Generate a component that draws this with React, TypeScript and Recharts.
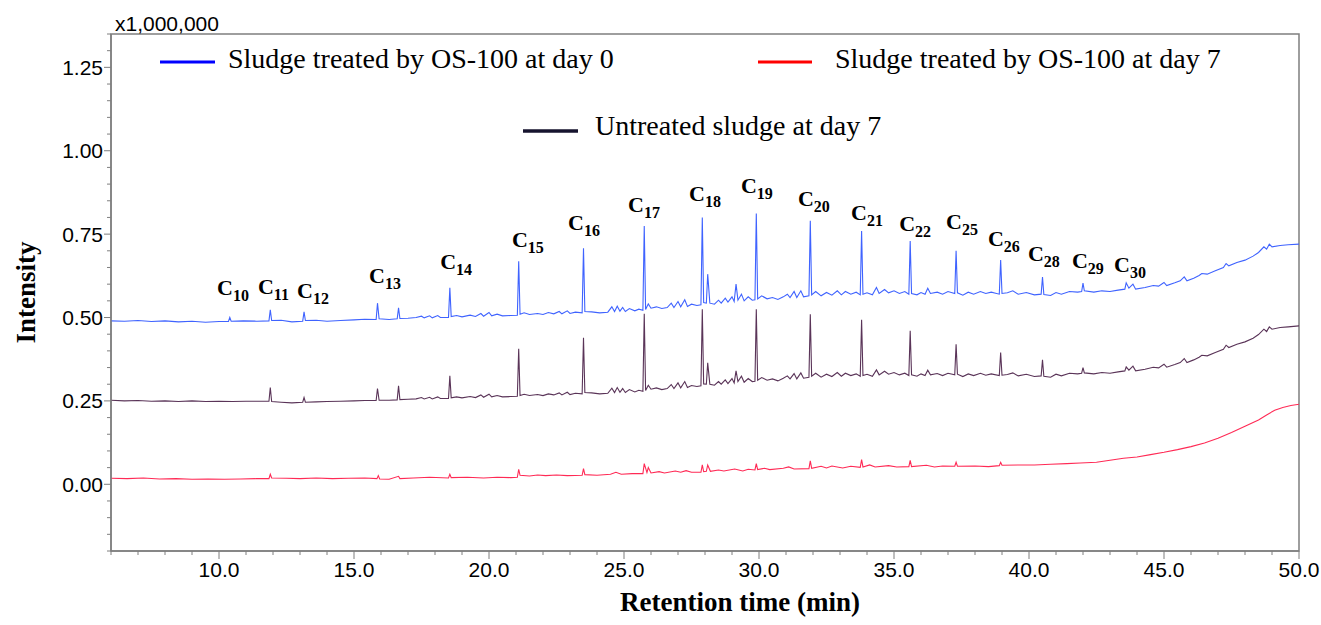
import {
  LineChart,
  Line,
  XAxis,
  YAxis,
  ReferenceArea,
  ReferenceDot,
  Legend,
} from "recharts";

// [retention time (min), intensity (x1,000,000)]
const day0Trace: [number, number][] = [
  [6.0, 0.49], [6.5, 0.489], [7.0, 0.491], [7.5, 0.488], [8.0, 0.49], [8.5, 0.487], [9.0, 0.489], [9.5, 0.486],
  [10.0, 0.488], [10.35, 0.488], [10.4, 0.5], [10.45, 0.489], [10.9, 0.49], [11.4, 0.489], [11.85, 0.49], [11.9, 0.523],
  [11.95, 0.491], [12.3, 0.492], [12.7, 0.487], [13.1, 0.489], [13.15, 0.517], [13.2, 0.491], [13.6, 0.492], [14.0, 0.489],
  [14.5, 0.491], [15.0, 0.493], [15.4, 0.495], [15.82, 0.494], [15.87, 0.543], [15.93, 0.496], [16.3, 0.494], [16.6, 0.496],
  [16.65, 0.529], [16.7, 0.497], [17.0, 0.498], [17.3, 0.5], [17.5, 0.504], [17.6, 0.499], [17.8, 0.505], [17.9, 0.499],
  [18.1, 0.506], [18.2, 0.5], [18.5, 0.5], [18.55, 0.589], [18.6, 0.503], [18.8, 0.506], [19.0, 0.502], [19.3, 0.507],
  [19.5, 0.503], [19.7, 0.512], [19.8, 0.504], [20.0, 0.515], [20.1, 0.505], [20.3, 0.51], [20.5, 0.505], [20.8, 0.506],
  [21.05, 0.507], [21.1, 0.669], [21.15, 0.51], [21.3, 0.514], [21.5, 0.509], [21.8, 0.512], [22.0, 0.509], [22.2, 0.515],
  [22.4, 0.511], [22.6, 0.518], [22.7, 0.511], [22.9, 0.52], [23.0, 0.512], [23.2, 0.516], [23.45, 0.514], [23.5, 0.708],
  [23.55, 0.518], [23.8, 0.517], [24.1, 0.514], [24.4, 0.516], [24.55, 0.532], [24.65, 0.518], [24.75, 0.534], [24.85, 0.519],
  [24.95, 0.53], [25.05, 0.518], [25.2, 0.527], [25.4, 0.52], [25.55, 0.525], [25.7, 0.522], [25.75, 0.774], [25.8, 0.524],
  [25.9, 0.541], [26.0, 0.528], [26.2, 0.532], [26.4, 0.527], [26.6, 0.53], [26.75, 0.543], [26.85, 0.53], [27.0, 0.548],
  [27.1, 0.532], [27.25, 0.553], [27.35, 0.533], [27.5, 0.54], [27.7, 0.536], [27.85, 0.538], [27.9, 0.8], [27.95, 0.545],
  [28.05, 0.543], [28.1, 0.63], [28.18, 0.543], [28.35, 0.54], [28.5, 0.552], [28.6, 0.543], [28.75, 0.558], [28.85, 0.546],
  [29.0, 0.562], [29.08, 0.548], [29.15, 0.6], [29.22, 0.552], [29.35, 0.57], [29.45, 0.55], [29.6, 0.562], [29.75, 0.552],
  [29.85, 0.553], [29.9, 0.812], [29.95, 0.556], [30.1, 0.565], [30.3, 0.556], [30.5, 0.56], [30.7, 0.554], [30.9, 0.562],
  [31.05, 0.57], [31.15, 0.56], [31.3, 0.578], [31.4, 0.56], [31.55, 0.58], [31.65, 0.562], [31.85, 0.565], [31.9, 0.79],
  [31.95, 0.568], [32.1, 0.578], [32.3, 0.565], [32.5, 0.575], [32.7, 0.567], [32.9, 0.58], [33.05, 0.568], [33.2, 0.578],
  [33.4, 0.57], [33.6, 0.576], [33.75, 0.568], [33.8, 0.759], [33.85, 0.57], [34.0, 0.574], [34.2, 0.568], [34.35, 0.59],
  [34.45, 0.572], [34.65, 0.584], [34.8, 0.574], [35.0, 0.58], [35.2, 0.572], [35.4, 0.578], [35.55, 0.57], [35.6, 0.729],
  [35.65, 0.572], [35.85, 0.568], [36.0, 0.575], [36.15, 0.57], [36.25, 0.588], [36.35, 0.572], [36.6, 0.576], [36.8, 0.57],
  [37.0, 0.578], [37.25, 0.572], [37.3, 0.7], [37.35, 0.574], [37.55, 0.567], [37.75, 0.576], [37.95, 0.57], [38.2, 0.578],
  [38.4, 0.572], [38.6, 0.576], [38.9, 0.57], [38.95, 0.672], [39.0, 0.572], [39.2, 0.574], [39.4, 0.58], [39.6, 0.57],
  [39.9, 0.575], [40.2, 0.568], [40.45, 0.57], [40.5, 0.621], [40.55, 0.569], [40.8, 0.566], [41.0, 0.575], [41.2, 0.57],
  [41.5, 0.578], [41.8, 0.576], [41.95, 0.578], [42.0, 0.603], [42.05, 0.58], [42.4, 0.576], [42.7, 0.58], [43.0, 0.578],
  [43.3, 0.582], [43.55, 0.585], [43.6, 0.604], [43.7, 0.588], [43.85, 0.6], [43.95, 0.585], [44.3, 0.59], [44.6, 0.596],
  [44.8, 0.594], [45.0, 0.605], [45.1, 0.596], [45.4, 0.604], [45.6, 0.61], [45.75, 0.622], [45.85, 0.61], [46.1, 0.618],
  [46.3, 0.626], [46.4, 0.632], [46.6, 0.63], [46.9, 0.64], [47.2, 0.65], [47.3, 0.662], [47.4, 0.655], [47.7, 0.665],
  [48.0, 0.672], [48.3, 0.684], [48.5, 0.695], [48.7, 0.712], [48.8, 0.705], [48.9, 0.72], [49.0, 0.712], [49.3, 0.716],
  [49.6, 0.718], [50.0, 0.72],
];

const day7Trace: [number, number][] = [
  [6.0, 0.018], [6.6, 0.017], [7.2, 0.019], [7.8, 0.016], [8.4, 0.017], [9.0, 0.015], [9.6, 0.016], [10.2, 0.015],
  [10.8, 0.016], [11.4, 0.017], [11.85, 0.017], [11.9, 0.03], [11.95, 0.019], [12.5, 0.018], [13.0, 0.017], [13.6, 0.019],
  [14.2, 0.017], [14.8, 0.018], [15.4, 0.019], [15.85, 0.017], [15.9, 0.026], [15.95, 0.016], [16.3, 0.015], [16.65, 0.024],
  [16.7, 0.017], [17.2, 0.019], [17.8, 0.021], [18.5, 0.019], [18.55, 0.03], [18.6, 0.02], [19.2, 0.021], [19.8, 0.019],
  [20.3, 0.021], [20.8, 0.02], [21.05, 0.021], [21.1, 0.045], [21.15, 0.027], [21.5, 0.025], [21.8, 0.028], [22.1, 0.026],
  [22.5, 0.028], [22.9, 0.026], [23.45, 0.027], [23.5, 0.047], [23.55, 0.029], [24.0, 0.027], [24.5, 0.03], [24.7, 0.036],
  [24.9, 0.03], [25.3, 0.032], [25.7, 0.032], [25.75, 0.062], [25.85, 0.035], [25.9, 0.05], [26.0, 0.034], [26.3, 0.038],
  [26.5, 0.034], [26.9, 0.04], [27.1, 0.036], [27.3, 0.041], [27.5, 0.036], [27.85, 0.036], [27.9, 0.058], [27.95, 0.038],
  [28.05, 0.039], [28.1, 0.058], [28.2, 0.039], [28.5, 0.043], [28.7, 0.04], [29.1, 0.046], [29.4, 0.04], [29.6, 0.045],
  [29.85, 0.043], [29.9, 0.062], [29.95, 0.044], [30.2, 0.048], [30.4, 0.044], [30.9, 0.048], [31.1, 0.052], [31.3, 0.046],
  [31.85, 0.047], [31.9, 0.07], [31.95, 0.048], [32.3, 0.054], [32.5, 0.049], [32.7, 0.055], [33.1, 0.049], [33.4, 0.054],
  [33.75, 0.051], [33.8, 0.074], [33.85, 0.052], [34.1, 0.058], [34.3, 0.052], [34.8, 0.056], [35.1, 0.052], [35.55, 0.053],
  [35.6, 0.072], [35.65, 0.053], [36.2, 0.057], [36.5, 0.052], [36.8, 0.055], [37.25, 0.054], [37.3, 0.066], [37.35, 0.054],
  [38.0, 0.055], [38.5, 0.053], [38.9, 0.056], [38.95, 0.066], [39.0, 0.057], [39.6, 0.058], [40.2, 0.058], [40.8, 0.06],
  [41.4, 0.062], [41.9, 0.064], [42.5, 0.066], [43.0, 0.072], [43.5, 0.078], [44.0, 0.082], [44.5, 0.089], [45.0, 0.096],
  [45.5, 0.104], [46.0, 0.113], [46.5, 0.124], [47.0, 0.138], [47.5, 0.155], [48.0, 0.174], [48.5, 0.193], [48.8, 0.208],
  [49.1, 0.222], [49.4, 0.23], [49.7, 0.236], [50.0, 0.24],
];

const untreatedTrace: [number, number][] = [
  [6.0, 0.252], [6.5, 0.25], [7.0, 0.251], [7.5, 0.249], [8.0, 0.25], [8.5, 0.248], [9.0, 0.25], [9.5, 0.248],
  [10.0, 0.249], [10.5, 0.248], [11.0, 0.249], [11.5, 0.249], [11.85, 0.249], [11.9, 0.29], [11.95, 0.248], [12.3, 0.246],
  [12.7, 0.244], [13.1, 0.246], [13.15, 0.26], [13.2, 0.246], [13.6, 0.247], [14.0, 0.248], [14.5, 0.249], [15.0, 0.25],
  [15.4, 0.251], [15.82, 0.251], [15.87, 0.287], [15.93, 0.252], [16.3, 0.252], [16.6, 0.253], [16.65, 0.295], [16.7, 0.254],
  [17.0, 0.255], [17.3, 0.256], [17.5, 0.26], [17.6, 0.256], [17.8, 0.261], [17.9, 0.256], [18.1, 0.262], [18.2, 0.257],
  [18.5, 0.257], [18.55, 0.325], [18.6, 0.259], [18.8, 0.262], [19.0, 0.259], [19.3, 0.263], [19.5, 0.26], [19.7, 0.268],
  [19.8, 0.261], [20.0, 0.27], [20.1, 0.262], [20.3, 0.266], [20.5, 0.262], [20.8, 0.263], [21.05, 0.264], [21.1, 0.406],
  [21.15, 0.266], [21.3, 0.27], [21.5, 0.266], [21.8, 0.269], [22.0, 0.266], [22.2, 0.271], [22.4, 0.268], [22.6, 0.274],
  [22.7, 0.268], [22.9, 0.276], [23.0, 0.269], [23.2, 0.273], [23.45, 0.271], [23.5, 0.439], [23.55, 0.275], [23.8, 0.274],
  [24.1, 0.271], [24.4, 0.273], [24.55, 0.288], [24.65, 0.275], [24.75, 0.29], [24.85, 0.276], [24.95, 0.287], [25.05, 0.275],
  [25.2, 0.284], [25.4, 0.277], [25.55, 0.282], [25.7, 0.279], [25.75, 0.511], [25.8, 0.281], [25.9, 0.297], [26.0, 0.285],
  [26.2, 0.289], [26.4, 0.284], [26.6, 0.287], [26.75, 0.299], [26.85, 0.287], [27.0, 0.304], [27.1, 0.289], [27.25, 0.308],
  [27.35, 0.29], [27.5, 0.296], [27.7, 0.293], [27.85, 0.295], [27.9, 0.525], [27.95, 0.301], [28.05, 0.3], [28.1, 0.364],
  [28.18, 0.3], [28.35, 0.297], [28.5, 0.308], [28.6, 0.3], [28.75, 0.313], [28.85, 0.302], [29.0, 0.317], [29.08, 0.304],
  [29.15, 0.34], [29.22, 0.308], [29.35, 0.324], [29.45, 0.306], [29.6, 0.317], [29.75, 0.308], [29.85, 0.309], [29.9, 0.525],
  [29.95, 0.312], [30.1, 0.32], [30.3, 0.312], [30.5, 0.316], [30.7, 0.31], [30.9, 0.318], [31.05, 0.325], [31.15, 0.316],
  [31.3, 0.332], [31.4, 0.316], [31.55, 0.334], [31.65, 0.318], [31.85, 0.321], [31.9, 0.51], [31.95, 0.324], [32.1, 0.333],
  [32.3, 0.321], [32.5, 0.33], [32.7, 0.323], [32.9, 0.335], [33.05, 0.324], [33.2, 0.333], [33.4, 0.326], [33.6, 0.331],
  [33.75, 0.324], [33.8, 0.493], [33.85, 0.326], [34.0, 0.33], [34.2, 0.324], [34.35, 0.343], [34.45, 0.328], [34.65, 0.339],
  [34.8, 0.33], [35.0, 0.335], [35.2, 0.328], [35.4, 0.333], [35.55, 0.326], [35.6, 0.46], [35.65, 0.328], [35.85, 0.324],
  [36.0, 0.331], [36.15, 0.326], [36.25, 0.342], [36.35, 0.328], [36.6, 0.332], [36.8, 0.326], [37.0, 0.333], [37.25, 0.328],
  [37.3, 0.42], [37.35, 0.33], [37.55, 0.323], [37.75, 0.331], [37.95, 0.326], [38.2, 0.333], [38.4, 0.327], [38.6, 0.331],
  [38.9, 0.326], [38.95, 0.395], [39.0, 0.327], [39.2, 0.329], [39.4, 0.334], [39.6, 0.325], [39.9, 0.33], [40.2, 0.323],
  [40.45, 0.325], [40.5, 0.373], [40.55, 0.324], [40.8, 0.321], [41.0, 0.33], [41.2, 0.325], [41.5, 0.333], [41.8, 0.331],
  [41.95, 0.333], [42.0, 0.35], [42.05, 0.334], [42.4, 0.331], [42.7, 0.335], [43.0, 0.333], [43.3, 0.337], [43.55, 0.34],
  [43.6, 0.352], [43.7, 0.342], [43.85, 0.354], [43.95, 0.34], [44.3, 0.345], [44.6, 0.351], [44.8, 0.349], [45.0, 0.36],
  [45.1, 0.351], [45.4, 0.359], [45.6, 0.365], [45.75, 0.377], [45.85, 0.365], [46.1, 0.373], [46.3, 0.381], [46.4, 0.387],
  [46.6, 0.385], [46.9, 0.395], [47.2, 0.405], [47.3, 0.417], [47.4, 0.41], [47.7, 0.42], [48.0, 0.427], [48.3, 0.438],
  [48.5, 0.449], [48.7, 0.465], [48.8, 0.458], [48.9, 0.472], [49.0, 0.465], [49.3, 0.47], [49.6, 0.472], [50.0, 0.475],
];

// n-alkane peak labels: carbon number, retention time and intensity of the label anchor
const carbonNumbers = [10, 11, 12, 13, 14, 15, 16, 17, 18, 19, 20, 21, 22, 25, 26, 28, 29, 30];
const carbonLabelTimes = [9.93, 11.44, 12.89, 15.56, 18.19, 20.85, 22.93, 25.15, 27.41, 29.33, 31.44, 33.41, 35.19, 36.93, 38.48, 39.96, 41.59, 43.15];
const carbonLabelLevels = [0.567, 0.572, 0.56, 0.602, 0.644, 0.71, 0.761, 0.815, 0.848, 0.872, 0.833, 0.791, 0.758, 0.764, 0.713, 0.668, 0.647, 0.635];

const seriesNames = [
  "Sludge treated by OS-100 at day 0",
  "Sludge treated by OS-100 at day 7",
  "Untreated sludge at day 7",
];

const xMajorTicks = [10, 15, 20, 25, 30, 35, 40, 45, 50];
const yMajorTicks = [0, 0.25, 0.5, 0.75, 1.0, 1.25];

const toPoints = (trace: [number, number][]) => trace.map(([t, v]) => ({ t, v }));

const xTicks = Array.from({ length: 45 }, (_, i) => 6 + i);
const yTicks = Array.from({ length: 32 }, (_, i) => Math.round((-0.2 + i * 0.05) * 100) / 100);

const AXIS_GREY = "#7f7f7f";
const SANS = "'Liberation Sans', Arial, sans-serif";
const SERIF = "'Liberation Serif', 'Times New Roman', serif";

const XTick = ({ x, y, payload }: any) => {
  const major = xMajorTicks.includes(payload.value);
  return (
    <g>
      <line x1={x} x2={x} y1={y} y2={y + (major ? 8 : 4)} stroke={AXIS_GREY} strokeWidth={1} />
      {major && (
        <text x={x} y={y + 26} textAnchor="middle" fontSize={21} fontFamily={SANS} fill="#000">
          {payload.value.toFixed(1)}
        </text>
      )}
    </g>
  );
};

const YTick = ({ x, y, payload }: any) => {
  const major = yMajorTicks.some((m) => Math.abs(m - payload.value) < 1e-6);
  return (
    <g>
      <line x1={x - (major ? 7 : 4)} x2={x} y1={y} y2={y} stroke={AXIS_GREY} strokeWidth={1} />
      {major && (
        <text x={x - 8} y={y + 7.5} textAnchor="end" fontSize={21} fontFamily={SANS} fill="#000">
          {payload.value.toFixed(2)}
        </text>
      )}
    </g>
  );
};

const LegendBlock = () => (
  <svg width={1321} height={150}>
    <line x1={160} x2={215} y1={62} y2={62} stroke="#0000ff" strokeWidth={3} />
    <text x={228} y={68} fontSize={28} fontFamily={SERIF} fill="#000">{seriesNames[0]}</text>
    <line x1={758} x2={812} y1={62} y2={62} stroke="#ff0000" strokeWidth={3} />
    <text x={835} y={68} fontSize={28} fontFamily={SERIF} fill="#000">{seriesNames[1]}</text>
    <line x1={523} x2={578} y1={131} y2={131} stroke="#16132e" strokeWidth={3.5} />
    <text x={595} y={135} fontSize={28} fontFamily={SERIF} fill="#000">{seriesNames[2]}</text>
  </svg>
);

const CarbonLabel = (n: number) => (p: any) => (
  <text x={p.cx} y={p.cy} fontFamily={SERIF} fontWeight="bold" fontSize={22} fill="#000">
    C<tspan fontSize={16} dy={6}>{n}</tspan>
  </text>
);

const App = () => {
  return (
    <div style={{ position: "absolute", left: 0, top: 0, width: 1321, height: 625, background: "#fff" }}>
      <LineChart width={1321} height={625} margin={{ top: 34, right: 22, bottom: 0, left: 0 }}>
        <XAxis
          type="number"
          dataKey="t"
          domain={[6, 50]}
          allowDataOverflow
          ticks={xTicks}
          interval={0}
          tick={<XTick />}
          tickSize={0}
          tickMargin={0}
          height={74}
          axisLine={{ stroke: AXIS_GREY, strokeWidth: 1.5 }}
          label={{
            content: ({ viewBox }: any) => (
              <text
                x={viewBox.x + viewBox.width / 2 + 35}
                y={viewBox.y + 60}
                textAnchor="middle"
                fontSize={27}
                fontWeight="bold"
                fontFamily={SERIF}
                fill="#000"
              >
                Retention time (min)
              </text>
            ),
          }}
        />
        <YAxis
          type="number"
          domain={[-0.2, 1.35]}
          allowDataOverflow
          ticks={yTicks}
          interval={0}
          tick={<YTick />}
          tickSize={0}
          tickMargin={0}
          width={111}
          axisLine={{ stroke: AXIS_GREY, strokeWidth: 1.5 }}
          label={{
            content: ({ viewBox }: any) => {
              const cy = viewBox.y + viewBox.height / 2;
              return (
                <text
                  x={35}
                  y={cy}
                  transform={`rotate(-90, 35, ${cy})`}
                  textAnchor="middle"
                  fontSize={27}
                  fontWeight="bold"
                  fontFamily={SERIF}
                  fill="#000"
                >
                  Intensity
                </text>
              );
            },
          }}
        />
        <ReferenceArea
          x1={6}
          x2={50}
          y1={-0.2}
          y2={1.35}
          fill="none"
          stroke={AXIS_GREY}
          strokeWidth={1.5}
          label={{
            content: ({ viewBox }: any) => (
              <text x={viewBox.x + 4} y={viewBox.y - 3} fontSize={21} fontFamily={SANS} fill="#000">
                x1,000,000
              </text>
            ),
          }}
        />
        <Line
          data={toPoints(day7Trace)}
          dataKey="v"
          name={seriesNames[1]}
          stroke="#ff2a55"
          strokeWidth={1.1}
          dot={false}
          type="linear"
          isAnimationActive={false}
        />
        <Line
          data={toPoints(untreatedTrace)}
          dataKey="v"
          name={seriesNames[2]}
          stroke="#5a3458"
          strokeWidth={1.1}
          dot={false}
          type="linear"
          isAnimationActive={false}
        />
        <Line
          data={toPoints(day0Trace)}
          dataKey="v"
          name={seriesNames[0]}
          stroke="#3f63ff"
          strokeWidth={1.1}
          dot={false}
          type="linear"
          isAnimationActive={false}
        />
        {carbonNumbers.map((n, i) => (
          <ReferenceDot
            key={n}
            x={carbonLabelTimes[i]}
            y={carbonLabelLevels[i]}
            r={0}
            ifOverflow="visible"
            shape={CarbonLabel(n)}
          />
        ))}
        <Legend
          layout="horizontal"
          verticalAlign="middle"
          align="center"
          content={<LegendBlock />}
          wrapperStyle={{ position: "absolute", left: 0, top: 0, width: 1321, height: 150, pointerEvents: "none" }}
        />
      </LineChart>
    </div>
  );
};

export default App;
